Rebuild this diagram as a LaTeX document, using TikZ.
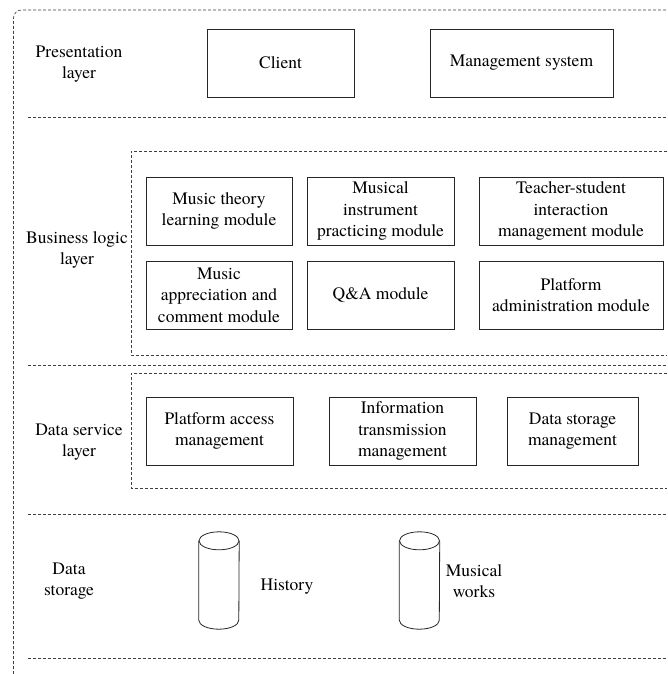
\documentclass[tikz,border=0pt]{standalone}
\usepackage{fontspec}
\setmainfont{texgyretermes}[Extension=.otf, UprightFont=*-regular, BoldFont=*-bold, ItalicFont=*-italic]
\begin{document}
\begin{tikzpicture}[x=1pt,y=-1pt,
  every node/.style={font=\fontsize{17.5}{21.5}\selectfont, align=center, inner sep=0pt},
  modbox/.style={draw=black!85, line width=0.8pt, minimum height=68pt},
  lbl/.style={text=black},
  sepline/.style={draw=black!75, line width=0.6pt, dash pattern=on 3pt off 2pt},
  dbbody/.style={minimum width=40pt, minimum height=97pt},
  dbline/.style={draw=black!85, line width=0.8pt}]
\useasboundingbox (0,0) rectangle (667,674);

% outer frame, open to the right and bottom
\draw[sepline, rounded corners=8pt] (13.5,674) -- (13.5,10) -- (667,10);

% layer separators
\draw[sepline] (28,117) -- (667,117);
\draw[sepline] (28,365) -- (667,365);
\draw[sepline] (28,514) -- (667,514);
\draw[sepline] (28,658) -- (667,658);

% module groups
\draw[sepline] (667,151) -- (131,151) -- (131,355) -- (667,355);
\draw[sepline] (667,373) -- (131,373) -- (131,488) -- (667,488);

% layer names
\node[lbl] (lp) at (79,64) {Presentation\\layer};
\node[lbl] (lb) at (77,250) {Business logic\\layer};
\node[lbl] (ls) at (79,442) {Data service\\layer};
\node[lbl] (ld) at (69,581) {Data\\storage};

% presentation layer
\node[modbox, minimum width=147pt] (client) at (280.5,63) {Client};
\node[modbox, minimum width=183pt] (mgmt) at (521.5,63) {Management system};

% business logic layer
\node[modbox, minimum width=146pt] (theory) at (219,211) {Music theory\\learning module};
\node[modbox, minimum width=147pt] (instr) at (380.5,211) {Musical\\instrument\\practicing module};
\node[modbox, minimum width=184pt] (inter) at (571,211) {Teacher-student\\interaction\\management module};
\node[modbox, minimum width=146pt] (apprec) at (219,295) {Music\\appreciation and\\comment module};
\node[modbox, minimum width=147pt] (qa) at (380.5,295) {Q\&A module};
\node[modbox, minimum width=184pt] (admin) at (571,295) {Platform\\administration module};

% data service layer
\node[modbox, minimum width=147pt] (access) at (219.5,431) {Platform access\\management};
\node[modbox, minimum width=147pt] (trans) at (402.5,431) {Information\\transmission\\management};
\node[modbox, minimum width=131pt] (store) at (572.5,431) {Data storage\\management};

% data storage: cylinders (body node spans the full height, caps inset by 9pt)
\node[dbbody] (hist) at (219,580.5) {};
\node[dbbody] (works) at (419.5,580.5) {};
\foreach \c in {hist,works}{
  \draw[dbline] ([yshift=-9pt]\c.north west) -- ([yshift=9pt]\c.south west)
    arc[start angle=180, end angle=360, x radius=20pt, y radius=9pt]
    -- ([yshift=-9pt]\c.north east);
  \draw[dbline] ([yshift=-9pt]\c.north) ellipse[x radius=20pt, y radius=9pt];
}
\node[lbl] (histl) at (287,587) {History};
\node[lbl] (worksl) at (474,581) {Musical\\works};
\end{tikzpicture}
\end{document}
